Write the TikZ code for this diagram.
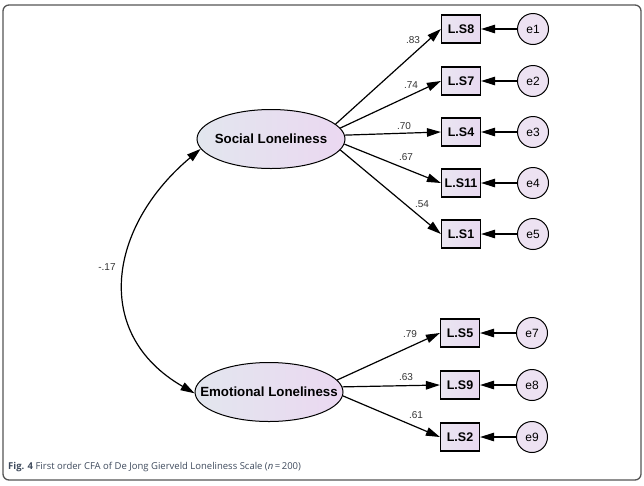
\documentclass[tikz,border=0pt]{standalone}
\usepackage{fontspec}
\setmainfont{Liberation Sans}
\newfontfamily\capfont{Open Sans}
\usetikzlibrary{arrows.meta,shapes.geometric}
\definecolor{latL}{HTML}{E2E6EE}
\definecolor{latR}{HTML}{EBD8F1}
\definecolor{boxL}{HTML}{EAE6F1}
\definecolor{boxR}{HTML}{E8D9F0}
\definecolor{errfill}{HTML}{EDE2F2}
\definecolor{capcol}{HTML}{3E4A5C}
\definecolor{framecol}{HTML}{555555}
\tikzset{
  >={Triangle[length=14pt,width=8.5pt]},
  latent/.style={ellipse, draw, line width=1pt, minimum width=148pt, minimum height=59pt, inner xsep=-30pt, inner ysep=0pt, left color=latL, right color=latR, font=\fontsize{13.3}{13.3}\selectfont\bfseries},
  item/.style={rectangle, draw, line width=1.2pt, minimum width=39pt, minimum height=28pt, inner sep=0pt, left color=boxL, right color=boxR, font=\fontsize{12.5}{12.5}\selectfont\bfseries},
  err/.style={circle, draw, line width=1pt, minimum size=31pt, inner sep=0pt, fill=errfill, font=\fontsize{12}{12}\selectfont},
  load/.style={line width=1.2pt, ->},
  wt/.style={font=\fontsize{10}{10}\selectfont, text=black!80},
}

\begin{document}
\begin{tikzpicture}[x=1pt,y=-1pt]
    \useasboundingbox (0,0) rectangle (644,485);
    \draw[framecol, line width=1.3pt, rounded corners=6pt] (3,5) rectangle (641,480); % frame
    % latent factors
    \node[latent] (soc) at (271,139) {Social Loneliness};
    \node[latent] (emo) at (269,392) {Emotional Loneliness};
    % observed items
    \node[item] (ls8) at (461,29) {L.S8};
    \node[item] (ls7) at (461,81) {L.S7};
    \node[item] (ls4) at (461,132) {L.S4};
    \node[item] (ls11) at (461,183) {L.S11};
    \node[item] (ls1) at (461,234) {L.S1};
    \node[item] (ls5) at (460,333) {L.S5};
    \node[item] (ls9) at (460,385) {L.S9};
    \node[item] (ls2) at (460,437) {L.S2};
    % error terms
    \node[err] (e1) at (533,29) {e1};
    \node[err] (e2) at (533,81) {e2};
    \node[err] (e3) at (533,132) {e3};
    \node[err] (e4) at (533,183) {e4};
    \node[err] (e5) at (533,234) {e5};
    \node[err] (e7) at (532,333) {e7};
    \node[err] (e8) at (532,385) {e8};
    \node[err] (e9) at (532,437) {e9};
    % loadings
    \draw[load] (soc.13) -- (ls8.west);
    \draw[load] (soc.9) -- (ls7.west);
    \draw[load] (soc.3) -- (ls4.west);
    \draw[load] (soc.-4) -- (ls11.west);
    \draw[load] (soc.-9) -- (ls1.west);
    \draw[load] (emo.10) -- (ls5.west);
    \draw[load] (emo.4) -- (ls9.west);
    \draw[load] (emo.-3) -- (ls2.west);
    % errors to items
    \draw[load] (e1) -- (ls8);
    \draw[load] (e2) -- (ls7);
    \draw[load] (e3) -- (ls4);
    \draw[load] (e4) -- (ls11);
    \draw[load] (e5) -- (ls1);
    \draw[load] (e7) -- (ls5);
    \draw[load] (e8) -- (ls9);
    \draw[load] (e9) -- (ls2);
    % covariance
    \draw[line width=1.2pt, <->] (soc.188) to[out=220, in=150, looseness=1.25] (emo.181);
    % weights
    \node[wt] (w8) at (413,40) {.83};
    \node[wt] (w7) at (411,85) {.74};
    \node[wt] (w4) at (404,126) {.70};
    \node[wt] (w11) at (406,157) {.67};
    \node[wt] (w1) at (422,204) {.54};
    \node[wt] (w5) at (410,334) {.79};
    \node[wt] (w9) at (406,377) {.63};
    \node[wt] (w2) at (416,415) {.61};
    \node[wt] (wc) at (107,267) {-.17};
    % caption
    \node[anchor=west, inner sep=0pt, text=capcol, font=\capfont\fontsize{9.5}{10}\selectfont] (cap) at (8,467) {\textbf{Fig. 4} First order CFA of De Jong Gierveld Loneliness Scale (\textit{n}\,=\,200)};
\end{tikzpicture}
\end{document}
